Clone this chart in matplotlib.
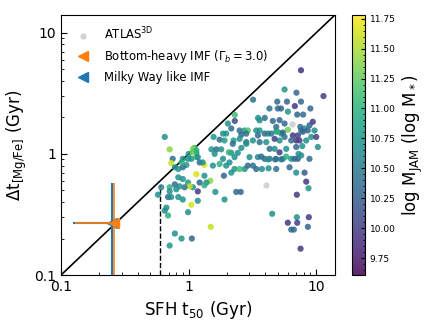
import matplotlib
matplotlib.use("Agg")
import matplotlib.pyplot as plt
import numpy as np
from matplotlib.ticker import FuncFormatter

# SFH t50 (Gyr), Delta t [Mg/Fe] (Gyr), log M_JAM
t50 = [7.6, 11.4, 5.65, 7.0, 3.2, 2.3, 4.95, 5.9, 7.6, 4.3, 5.0, 5.3, 6.8, 6.0, 7.1, 7.9, 9.0,
       2.3, 3.5, 3.95, 4.57, 5.16, 5.65, 9.4, 7.5, 8.1, 8.86, 2.03, 2.16, 2.51, 2.75, 2.91,
       2.59, 2.83, 3.39, 3.6, 3.94, 4.18, 4.44, 4.86, 5.32, 6.0, 6.56, 7.18, 7.63, 9.14, 5.16,
       0.65, 1.57, 1.75, 1.91, 2.25, 2.51, 2.83, 3.19, 3.6, 4.06, 4.31, 4.72, 5.16, 5.82, 6.97,
       7.77, 10.3, 0.71, 1.11, 1.15, 1.51, 1.65, 1.8, 2.16, 2.43, 3.0, 3.49, 3.94, 4.31, 4.86,
       5.48, 6.37, 7.18, 7.63, 8.86, 0.75, 0.73, 0.9, 0.96, 1.05, 1.15, 1.33, 1.55, 1.75, 1.97,
       2.29, 2.75, 3.39, 4.23, 4.86, 6.18, 6.97,
       1.86, 1.97, 2.22, 2.59, 2.07, 2.29, 2.51, 1.08, 0.78, 0.83, 0.9, 0.88, 0.99, 1.0, 1.08,
       1.15, 1.18, 1.22, 1.29, 1.15, 1.33, 1.48, 1.38, 1.22, 1.18, 1.08, 0.99, 1.02, 0.9, 0.93,
       0.83, 0.85, 0.78, 0.8, 0.71, 0.69, 0.73, 0.83, 0.9, 0.71, 1.05, 1.18, 0.67, 0.65, 0.69,
       0.99, 0.575, 0.61, 1.49, 1.62, 1.91, 2.36, 2.56, 1.89, 1.33, 0.78, 0.88, 1.06, 0.71,
       2.16, 2.09, 1.86, 1.6,
       3.71, 4.18, 4.77, 5.32, 5.82, 6.76, 7.27, 2.91, 3.19, 3.75, 8.1, 8.35, 8.7, 7.05, 4.52,
       7.05, 8.75, 5.99, 7.1, 8.6, 6.37, 6.68, 7.54,
       3.49, 3.6, 4.86, 5.0, 5.48, 7.86, 8.59, 9.7, 10.0, 6.97, 7.4, 6.37, 4.72, 8.35, 2.83, 5.65]
dt_mgfe = [4.9, 3.0, 3.4, 3.2, 2.8, 2.1, 2.7, 2.7, 2.7, 2.37, 2.37, 2.37, 2.48, 2.23, 2.11, 2.11, 2.37,
           1.87, 1.98, 1.98, 1.87, 1.9, 1.78, 1.84, 1.67, 1.62, 1.72, 1.78, 1.62, 1.56, 1.56, 1.56,
           1.44, 1.47, 1.56, 1.56, 1.47, 1.47, 1.47, 1.53, 1.47, 1.58, 1.42, 1.42, 1.56, 1.38, 1.29,
           1.38, 1.38, 1.31, 1.29, 1.29, 1.33, 1.25, 1.29, 1.25, 1.25, 1.1, 1.1, 1.03, 1.1, 1.14,
           1.16, 1.14, 1.09, 1.12, 1.02, 1.09, 1.09, 1.09, 1.02, 1.02, 0.94, 0.94, 0.91, 0.91, 0.91,
           0.91, 0.91, 0.91, 0.97, 0.91, 0.91, 0.84, 0.91, 0.81, 0.91, 0.94, 0.81, 0.8, 0.825, 0.8,
           0.75, 0.75, 0.75, 0.76, 0.75, 0.775, 0.70,
           1.47, 1.47, 1.21, 1.12, 1.03, 0.94, 0.75, 1.1, 0.775, 0.75, 0.775, 0.85, 0.91, 1.0, 1.03,
           1.07, 0.94, 0.85, 0.85, 0.68, 0.66, 0.6, 0.58, 0.58, 0.49, 0.53, 0.58, 0.54, 0.62, 0.53,
           0.64, 0.54, 0.56, 0.51, 0.53, 0.44, 0.44, 0.44, 0.42, 0.49, 0.38, 0.41, 0.36, 0.34, 0.31,
           0.33, 0.46, 0.53, 0.25, 0.485, 0.42, 0.485, 0.485, 0.66, 0.55, 0.22, 0.2, 0.2, 0.175,
           0.7, 0.85, 0.91, 1.0,
           0.95, 0.9, 0.9, 0.9, 0.95, 0.91, 1.0, 0.8, 0.8, 0.75, 0.7, 0.59, 0.52, 0.46, 0.32,
           0.3, 0.3, 0.27, 0.27, 0.25, 0.237, 0.237, 0.165,
           1.42, 1.89, 1.67, 1.52, 1.5, 1.52, 1.56, 1.56, 1.38, 1.29, 1.29, 1.29, 1.33, 1.29, 1.21, 1.38]
log_mjam = [9.9, 10.0, 10.75, 10.3, 10.45, 11.1, 10.35, 10.3, 10.3, 10.4, 10.35, 10.3, 9.95, 10.75, 10.3, 10.35, 10.3,
            10.1, 10.7, 10.4, 10.35, 10.3, 10.35, 9.95, 10.35, 10.65, 10.3, 10.7, 10.35, 10.4, 10.8, 11.2,
            10.35, 10.4, 10.7, 10.75, 10.4, 10.6, 10.45, 10.7, 10.75, 11.3, 9.95, 10.0, 10.35, 10.7, 10.7,
            10.7, 10.75, 10.35, 10.8, 10.8, 10.7, 10.35, 10.7, 10.4, 10.7, 10.35, 10.7, 9.95, 10.7, 10.3,
            10.7, 10.7, 11.4, 11.1, 10.7, 10.75, 10.4, 10.7, 10.75, 10.7, 10.7, 10.65, 10.35, 10.4, 10.7,
            10.7, 10.75, 10.3, 10.7, 10.35, 10.4, 11.6, 10.7, 10.75, 10.7, 11.1, 11.7, 10.7, 11.0, 10.7,
            10.75, 10.7, 10.35, 10.7, 10.4, 10.3, 10.7,
            10.7, 10.75, 10.35, 10.7, 11.0, 10.7, 11.1, 11.4, 10.7, 10.75, 10.4, 11.0, 10.7, 10.8, 11.3,
            11.0, 10.7, 10.35, 10.7, 11.65, 10.7, 11.4, 10.7, 10.3, 9.95, 10.7, 10.75, 11.6, 10.7, 10.4,
            10.7, 10.75, 10.35, 10.7, 11.0, 10.35, 10.7, 10.7, 10.7, 10.7, 11.65, 10.7, 10.7, 10.65, 11.0,
            10.7, 10.7, 10.6, 11.6, 10.7, 10.7, 10.35, 10.3, 10.3, 11.0, 10.7, 10.75, 10.3, 10.75,
            10.7, 10.7, 10.65, 10.7,
            10.35, 10.7, 10.35, 10.4, 11.0, 10.35, 10.7, 10.35, 10.4, 10.65, 10.2, 9.95, 10.7, 9.95, 10.7,
            10.7, 9.95, 9.95, 10.0, 10.3, 10.35, 10.4, 9.95,
            10.35, 10.7, 10.35, 11.0, 10.35, 10.35, 10.3, 10.65, 10.0, 9.95, 10.0, 10.35, 10.0, 10.7, 10.7, 10.4]

atlas_t50 = [6.5, 4.06]
atlas_dt = [1.76, 0.55]

# IMF reference points
imf_t50_bh = 0.258
imf_t50_mw = 0.253
imf_dt = 0.27
imf_xerr_low = 0.13
imf_yerr_low = 0.2
imf_yerr_up = 0.3

t50_limit = 0.6
t50_limit_top = 0.55

vmin, vmax = 9.61, 11.78
lim = (0.1, 14.0)

fig = plt.figure(figsize=(4.36, 3.27), dpi=100)
ax = fig.add_axes([0.14, 0.159, 0.628, 0.795])
cax = fig.add_axes([0.807, 0.159, 0.03, 0.795])

ax.plot(lim, lim, color="black", lw=1.2, zorder=1)
ax.vlines(t50_limit, lim[0], t50_limit_top, colors="black", linestyles="--", lw=1.0, zorder=1)

sc = ax.scatter(t50, dt_mgfe, c=log_mjam, cmap="viridis", vmin=vmin, vmax=vmax,
                s=20, linewidths=0, alpha=0.85, zorder=3)
ax.scatter(atlas_t50, atlas_dt, color="#d3d3d3", s=20, linewidths=0, zorder=2,
           label=r"ATLAS$^{\rm 3D}$")

ax.errorbar([imf_t50_mw], [imf_dt], xerr=[[imf_xerr_low], [0]],
            yerr=[[imf_yerr_low], [imf_yerr_up]], fmt="<", color="tab:blue",
            ms=7, lw=1.5, capsize=0, zorder=4, label="_nolegend_")
ax.errorbar([imf_t50_bh], [imf_dt], xerr=[[imf_xerr_low], [0]],
            yerr=[[imf_yerr_low], [imf_yerr_up]], fmt="<", color="tab:orange",
            ms=7, lw=1.2, capsize=0, zorder=5, label="_nolegend_")

# legend proxies
ax.plot([], [], "<", color="tab:orange", ms=7, ls="none",
        label=r"Bottom-heavy IMF ($\Gamma_b = 3.0$)")
ax.plot([], [], "<", color="tab:blue", ms=7, ls="none", label="Milky Way like IMF")

ax.set_xscale("log")
ax.set_yscale("log")
ax.set_xlim(lim)
ax.set_ylim(lim)

fmt = FuncFormatter(lambda v, p: ("%g" % v))
ax.xaxis.set_major_formatter(fmt)
ax.yaxis.set_major_formatter(fmt)
ax.tick_params(which="both", direction="in", labelsize=10)
ax.tick_params(which="major", length=4)
ax.tick_params(which="minor", length=2)

ax.set_xlabel(r"SFH t$_{50}$ (Gyr)", fontsize=12)
ax.set_ylabel(r"$\Delta$t$_{\rm [Mg/Fe]}$ (Gyr)", fontsize=12)

ax.legend(loc="upper left", frameon=False, fontsize="small")

cb = fig.colorbar(sc, cax=cax)
cb.set_ticks(np.arange(9.75, 11.76, 0.25))
cb.ax.yaxis.set_minor_locator(matplotlib.ticker.MultipleLocator(0.05))
cb.ax.tick_params(which="both", direction="in", labelsize=6.5)
cb.ax.tick_params(which="major", length=3)
cb.ax.tick_params(which="minor", length=1.5)
cb.set_label(r"log M$_{\rm JAM}$ (log M$_*$)", fontsize=12)

fig.savefig("out.png", dpi=100)
